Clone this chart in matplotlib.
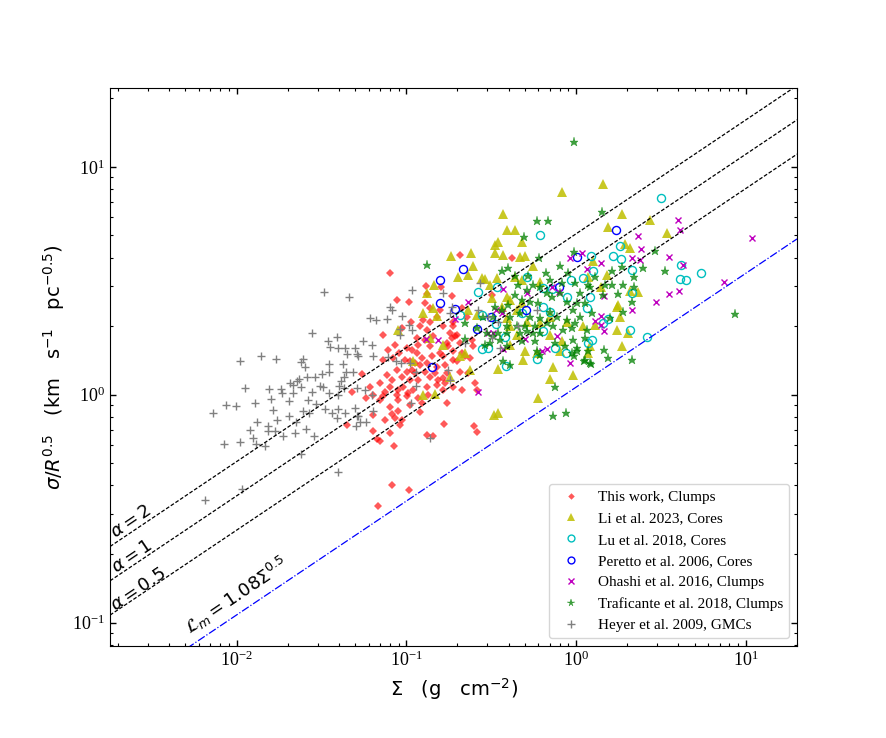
import numpy as np
import matplotlib
matplotlib.use('Agg')
import matplotlib.pyplot as plt

plt.rcParams['font.family'] = ['Liberation Serif', 'DejaVu Serif']
plt.rcParams['mathtext.fontset'] = 'stix'

# ---------------- data: log10(Sigma [g cm^-2]) and log10(sigma/R^0.5) ----------------
this_work_lsig = [-0.684,-1.096,-0.884,-0.796,-0.880,-1.053,-0.984,-0.890,-0.860,-0.801,
    -0.972,-0.903,-0.860,-0.821,-1.027,-1.136,-0.919,-0.880,-0.782,-0.939,
    -0.841,-0.890,-0.860,-0.733,-0.703,-0.753,-0.801,-0.998,-0.968,-0.939,
    -1.041,-1.077,-1.008,-0.978,-0.949,-0.919,-0.880,-0.821,-0.772,-0.703,
    -0.674,-1.136,-1.116,-1.057,-1.027,-0.998,-0.978,-0.949,-0.929,-0.890,
    -0.860,-0.831,-0.811,-0.762,-1.263,-1.214,-1.155,-1.096,-1.047,-1.018,
    -0.959,-0.880,-0.821,-0.772,-0.674,-0.595,-1.195,-1.136,-0.998,-1.126,
    -1.057,-0.988,-1.155,-1.047,-0.909,-0.978,-0.762,-1.096,-1.195,-1.086,
    -1.047,-1.067,-1.027,-1.037,-1.351,-1.195,-1.096,-1.174,-1.155,-0.776,
    -0.876,-0.844,-1.071,-0.601,-0.585,-1.083,-0.986,-1.169,-0.723,-0.742,
    -0.713,-0.762,-0.684,-0.615,-0.605,-0.723,-0.782,-0.723,-0.654,-0.625,
    -0.684,-0.635,-0.782,-0.723,-0.782,-0.585,-0.375,-0.733,-0.674,-0.644,-0.723,-0.497,
    -1.067,-0.931,-1.108,-0.849,-0.908,-0.966,-1.084,-0.872,-0.931,-1.126,-0.919,-1.237,-1.320]
this_work_lvel = [0.614,0.535,0.478,0.475,0.443,0.415,0.409,0.402,0.380,0.373,
    0.321,0.329,0.321,0.343,0.293,0.263,0.300,0.285,0.300,0.249,
    0.256,0.241,0.212,0.249,0.263,0.212,0.183,0.205,0.197,0.183,
    0.183,0.161,0.154,0.146,0.139,0.132,0.139,0.124,0.132,0.146,
    0.183,0.154,0.088,0.110,0.080,0.102,0.066,0.095,0.066,0.102,
    0.080,0.095,0.066,0.095,0.092,0.036,0.051,0.036,0.022,0.036,
    0.022,0.036,0.044,0.051,0.022,0.051,0.0,-0.007,-0.007,0.010,
    0.0,0.007,-0.022,-0.022,-0.036,-0.044,-0.034,-0.054,-0.088,-0.083,
    -0.073,-0.102,-0.110,-0.132,-0.132,-0.161,-0.168,-0.194,-0.205,-0.127,
    -0.175,-0.180,-0.224,-0.136,-0.165,-0.395,-0.420,-0.487,0.300,0.271,
    0.256,0.227,0.227,0.241,0.212,0.190,0.168,0.154,0.168,0.161,
    0.102,0.095,0.073,0.036,0.022,0.022,0.600,0.434,0.380,0.343,0.321,0.439,
    0.219,0.219,0.197,0.171,0.162,0.110,0.066,0.0,-0.013,-0.110,-0.075,-0.013,0.013]

li_lsig = [-0.738,-0.621,-0.609,-0.694,-0.635,-0.837,-0.876,-0.841,-0.900,-0.821,
    -0.585,-1.047,-0.782,-0.860,-0.654,-0.684,-0.959,-0.625,-0.742,-0.900,
    -0.831,-0.477,-0.428,-0.320,-0.481,-0.458,-0.314,-0.081,-0.430,-0.408,
    -0.359,-0.458,-0.477,-0.330,-0.301,-0.252,-0.556,-0.536,-0.467,-0.359,
    -0.320,-0.212,-0.507,-0.408,-0.389,-0.497,-0.438,-0.320,-0.349,-0.635,
    -0.291,-0.408,-0.153,-0.055,-0.389,-0.212,-0.349,-0.153,-0.389,-0.094,
    -0.301,-0.232,-0.458,-0.153,-0.016,-0.226,0.159,0.273,0.190,0.438,
    0.534,0.318,0.289,0.367,0.249,0.240,0.269,0.181,0.083,-0.134,
    -0.084,0.043,0.112,0.102,0.146,0.318,0.240,0.259,0.072,0.308,0.072]
li_lvel = [0.610,0.624,0.566,0.519,0.526,0.482,0.446,0.380,0.358,0.346,
    0.351,0.285,0.219,0.249,0.183,0.168,0.146,0.110,0.080,0.000,
    0.004,0.658,0.614,0.672,-0.088,-0.078,0.154,0.889,0.793,0.724,
    0.724,0.672,0.622,0.604,0.610,0.563,0.512,0.507,0.512,0.519,
    0.504,0.497,0.482,0.431,0.417,0.424,0.387,0.402,0.373,0.373,
    0.321,0.336,0.343,0.321,0.300,0.314,0.263,0.263,0.219,0.190,
    0.190,0.183,0.113,0.069,0.088,-0.014,0.924,0.794,0.736,0.768,
    0.712,0.643,0.662,0.449,0.395,0.285,0.212,0.526,0.212,0.124,
    0.234,0.300,0.307,0.585,0.475,0.457,0.387,0.343,0.519,0.271,0.183]

lu_lsig = [-0.576,-0.684,-0.556,-0.467,-0.556,-0.471,-0.418,-0.517,-0.414,-0.320,
    -0.212,-0.291,-0.193,-0.031,-0.055,-0.193,-0.153,-0.143,-0.193,-0.124,
    -0.059,-0.232,0.499,0.087,0.220,0.263,0.259,0.328,0.617,0.610,
    0.646,0.735,0.102,0.043,0.328,0.083,0.065,0.190,0.161,0.318,
    0.420,0.093,0.072]
lu_lvel = [0.453,0.351,0.202,0.475,0.351,0.309,0.253,0.205,0.127,0.358,
    0.702,0.519,0.468,0.504,0.431,0.387,0.365,0.465,0.282,0.205,
    0.183,0.157,0.864,0.607,0.607,0.595,0.651,0.548,0.570,0.509,
    0.502,0.534,0.541,0.512,0.446,0.428,0.382,0.332,0.314,0.283,
    0.253,0.241,0.228]

peretto_lsig = [-0.668,-0.801,-0.803,-0.713,-0.585,-0.846,-0.503,-0.295,-0.098,0.004,0.236]
peretto_lvel = [0.551,0.503,0.404,0.377,0.289,0.124,0.343,0.373,0.475,0.603,0.721]

ohashi_lsig = [-0.635,-0.713,-0.811,-0.886,-0.579,-0.474,-0.438,-0.428,-0.517,-0.487,
    -0.432,-0.289,-0.143,-0.038,-0.102,-0.301,-0.203,-0.174,-0.114,-0.038,
    0.034,0.147,0.165,0.112,0.144,0.165,0.328,0.598,0.610,0.362,
    0.383,0.330,0.377,0.548,0.632,0.067,0.549,0.605,0.470,0.147,
    0.868,1.035]
ohashi_lvel = [0.408,0.333,0.241,0.244,0.013,0.373,0.358,0.464,0.273,0.272,
    0.202,0.446,0.472,0.600,0.453,0.244,0.194,0.200,0.259,0.139,
    0.624,0.580,0.434,0.325,0.307,0.278,0.373,0.765,0.721,0.697,
    0.638,0.601,0.592,0.603,0.571,0.551,0.442,0.456,0.407,0.346,
    0.494,0.686]

traf_lsig = [-0.880,-0.654,-0.654,-0.014,0.155,-0.232,-0.163,-0.305,-0.218,-0.010,
    0.269,0.391,0.524,0.466,0.338,0.279,0.161,0.210,0.246,0.332,
    0.202,0.165,0.190,0.332,0.053,0.083,-0.124,-0.134,-0.059,-0.438,
    -0.402,-0.359,-0.281,-0.340,-0.291,-0.252,-0.177,-0.153,-0.094,-0.045,
    -0.084,-0.006,-0.212,-0.173,-0.143,-0.094,-0.055,-0.016,-0.222,-0.271,
    -0.320,-0.359,-0.399,-0.438,-0.477,-0.487,-0.389,-0.330,-0.271,-0.212,
    -0.153,-0.114,-0.055,-0.173,-0.242,-0.301,-0.349,-0.408,-0.546,-0.585,
    -0.526,-0.487,-0.458,-0.448,-0.507,-0.536,-0.408,-0.330,-0.291,-0.252,
    -0.212,-0.134,-0.075,-0.025,-0.320,-0.242,-0.408,-0.428,-0.389,-0.232,
    -0.212,-0.124,-0.065,-0.025,0.004,
    0.210,0.112,0.072,0.338,0.171,0.083,0.024,0.053,0.004,0.093,0.275,
    0.024,-0.006,0.067,-0.016,0.053,0.004,0.072,-0.012,0.049,0.087,0.937]
traf_lvel = [0.570,0.314,0.246,1.111,0.800,0.763,0.763,0.692,0.600,0.627,
    0.560,0.556,0.541,0.629,0.475,0.482,0.439,0.482,0.442,0.407,
    0.336,0.197,0.161,0.154,0.154,0.139,0.036,-0.095,-0.080,0.541,
    0.556,0.522,0.522,0.482,0.461,0.482,0.534,0.504,0.563,0.534,
    0.490,0.490,0.475,0.446,0.431,0.446,0.409,0.373,0.402,0.409,
    0.417,0.439,0.395,0.373,0.387,0.343,0.343,0.358,0.343,0.336,
    0.365,0.343,0.329,0.314,0.300,0.300,0.300,0.300,0.343,0.293,
    0.271,0.256,0.271,0.241,0.227,0.219,0.271,0.271,0.278,0.271,
    0.271,0.300,0.285,0.293,0.234,0.234,0.212,0.146,0.132,0.190,
    0.175,0.227,0.212,0.183,0.205,
    0.541,0.516,0.482,0.519,0.482,0.475,0.446,0.402,0.402,0.358,0.365,
    0.343,0.314,0.285,0.241,0.249,0.190,0.190,0.171,0.150,0.136,0.355]

heyer_lsig = [-1.483,-1.336,-1.554,-1.461,-1.408,-1.451,-1.403,-1.361,-1.350,-1.289,
    -1.978,-1.856,-1.768,-1.607,-1.622,-1.597,-1.457,-1.371,-1.456,-1.499,
    -1.355,-1.369,-1.634,-1.646,-1.585,-1.538,-1.951,-1.811,-1.740,-1.734,
    -1.684,-1.666,-1.619,-1.668,-1.554,-1.510,-1.489,-1.383,-1.395,-1.365,
    -1.292,-1.454,-1.403,-1.799,-1.893,-1.693,-1.581,-1.532,-1.786,-1.607,
    -1.573,-1.481,-1.440,-1.401,-1.360,-1.292,-2.064,-2.005,-2.139,-1.882,
    -1.764,-1.693,-1.652,-1.923,-1.815,-1.817,-1.774,-1.725,-1.656,-1.591,
    -1.544,-1.905,-1.978,-2.076,-1.884,-1.833,-1.619,-1.401,-2.186,-1.968,
    -1.407,-1.298,
    -0.968,-1.096,-1.086,-1.214,-1.179,-1.112,-1.025,-0.982,-0.968,-1.257,
    -1.204,-1.037,-1.037,-1.302,-1.283,-1.195,-1.106,-1.061,-1.031,-0.978,
    -1.312,-1.245,-1.204,-1.195,-1.283,-1.273,-1.237,-0.860,-0.943,-0.943,
    -0.782,-0.732,-0.742,-0.566,-0.576,-0.517,-0.458,-0.340,-0.232,-0.497,
    -0.448,-0.753,-0.742,-0.654,-0.972,-1.302]
heyer_lvel = [0.453,0.427,0.271,0.234,0.253,0.209,0.205,0.205,0.180,0.180,
    0.148,0.172,0.155,0.159,0.143,0.124,0.137,0.137,0.102,0.092,
    0.102,0.079,0.071,0.061,0.079,0.079,0.031,0.026,0.026,0.007,
    0.053,0.041,0.036,0.006,0.013,0.038,0.036,0.061,0.038,0.031,
    0.031,0.006,-0.003,-0.019,-0.036,-0.029,-0.025,-0.039,-0.067,-0.073,
    -0.080,-0.061,-0.080,-0.061,-0.078,-0.091,-0.047,-0.051,-0.078,-0.120,
    -0.111,-0.092,-0.121,-0.155,-0.135,-0.158,-0.158,-0.179,-0.167,-0.150,
    -0.183,-0.189,-0.207,-0.216,-0.218,-0.225,-0.262,-0.339,-0.461,-0.415,
    -0.100,-0.135,
    0.461,0.383,0.373,0.339,0.328,0.332,0.346,0.306,0.285,0.237,
    0.219,0.289,0.263,0.205,0.168,0.168,0.164,0.149,0.139,0.139,
    0.102,0.022,0.0,-0.073,-0.095,-0.121,-0.121,-0.190,0.039,0.100,
    0.446,0.387,0.358,0.490,0.373,0.343,0.321,0.300,0.373,0.249,
    0.205,0.110,0.066,0.227,-0.034,-0.058]

labels = ['This work, Clumps', 'Li et al. 2023, Cores', 'Lu et al. 2018, Cores',
          'Peretto et al. 2006, Cores', 'Ohashi et al. 2016, Clumps',
          'Traficante et al. 2018, Clumps', 'Heyer et al. 2009, GMCs']
alphas_vir = [2, 1, 0.5]
lm_coeff = 1.08
G_pc = 4.302e-3          # pc Msun^-1 (km/s)^2
gcm2_to_msunpc2 = 4788.0

# ---------------- figure ----------------
fig = plt.figure(figsize=(8.86, 7.38), dpi=100)
ax = fig.add_axes([0.1242, 0.1247, 0.7754, 0.7561])
ax.set_xscale('log')
ax.set_yscale('log')

P = lambda a: 10 ** np.asarray(a)
ax.plot(P(this_work_lsig), P(this_work_lvel), ls='none', marker='D', ms=3.9,
        color='red', alpha=0.65, mew=0, label=labels[0])
ax.plot(P(li_lsig), P(li_lvel), ls='none', marker='^', ms=6.5, color='y',
        alpha=0.85, mew=0, label=labels[1])
ax.plot(P(lu_lsig), P(lu_lvel), ls='none', marker='o', ms=5.8, mfc='none',
        mec='c', mew=1.0, label=labels[2])
ax.plot(P(peretto_lsig), P(peretto_lvel), ls='none', marker='o', ms=5.8, mfc='none',
        mec='b', mew=1.0, label=labels[3])
ax.plot(P(ohashi_lsig), P(ohashi_lvel), ls='none', marker='x', ms=5, color='m',
        mew=1.0, label=labels[4])
ax.plot(P(traf_lsig), P(traf_lvel), ls='none', marker='*', ms=6.5, color='g',
        alpha=0.75, mew=0.3, label=labels[5])
ax.plot(P(heyer_lsig), P(heyer_lvel), ls='none', marker='+', ms=6, color='gray',
        mew=1.0, label=labels[6])

xlim = (0.0018, 20.0)
ylim = (0.079, 22.2)
xs = np.logspace(np.log10(xlim[0]), np.log10(xlim[1]), 200)
for a in alphas_vir:
    ax.plot(xs, np.sqrt(a * np.pi * G_pc * gcm2_to_msunpc2 * xs / 5.0), ls='--',
            color='k', lw=0.9, dashes=(3, 1.5))
ax.plot(xs, lm_coeff * xs ** 0.5, ls='-.', color='b', lw=0.9)

ax.set_xlim(*xlim)
ax.set_ylim(*ylim)

rot = 34
tkw = dict(rotation=rot, rotation_mode='anchor', ha='center', va='center',
           fontsize=13, family='DejaVu Sans', math_fontfamily='dejavusans')
ax.text(0.00240, 0.277, r'$\alpha=2$', **tkw)
ax.text(0.00243, 0.195, r'$\alpha=1$', **tkw)
ax.text(0.00262, 0.140, r'$\alpha=0.5$', **tkw)
ax.text(0.0100, 0.131, r'$\mathcal{L}_m=1.08\Sigma^{0.5}$', **tkw)

ax.set_xlabel(r'$\Sigma$   (g   cm$^{-2}$)', fontsize=14, family='DejaVu Sans',
              math_fontfamily='dejavusans')
ax.set_ylabel(r'$\sigma/R^{0.5}$   (km   s$^{-1}$   pc$^{-0.5}$)', fontsize=14,
              family='DejaVu Sans', math_fontfamily='dejavusans')

ax.tick_params(which='both', direction='in', top=True, right=True)
ax.tick_params(which='major', length=4.5, width=1, labelsize=13)
ax.tick_params(which='minor', length=2.5, width=0.8)

ax.legend(loc='lower right', fontsize=11, numpoints=1, labelspacing=0.5,
          handletextpad=0.8, markerscale=0.85)

fig.savefig('out.png', dpi=100)
